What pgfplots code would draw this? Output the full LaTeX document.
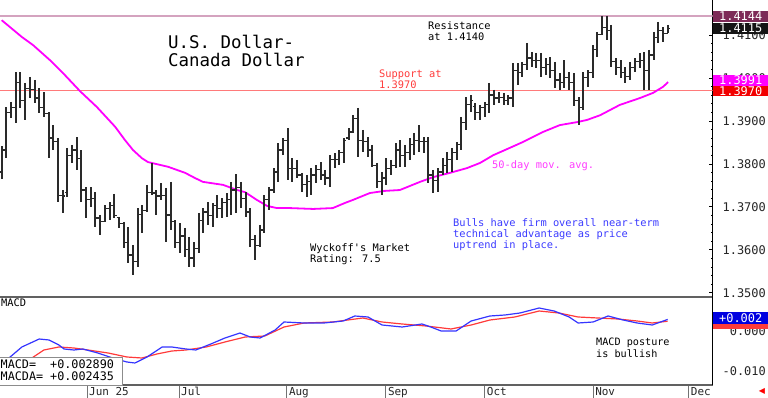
\documentclass[border=0pt]{standalone}
\usepackage{pgfplots}
\pgfplotsset{compat=1.18}
\usepackage{pgfplotstable}
\usepackage{fontspec}
\setmainfont{DejaVu Sans Mono}
\newfontfamily\symfont{DejaVu Sans}
\definecolor{resist}{HTML}{D4A3BF}
\definecolor{support}{HTML}{FF7A7A}
\definecolor{magline}{HTML}{FF00FF}
\definecolor{macdblue}{HTML}{3535FF}
\definecolor{macdred}{HTML}{FF3A3A}
\definecolor{boxmaroon}{HTML}{7D2A57}
\definecolor{txtred}{HTML}{FF3B3B}
\definecolor{txtmag}{HTML}{FF3BFF}
\definecolor{txtblue}{HTML}{3B3BFF}
\definecolor{barcol}{HTML}{2A2A2A}
\pgfdeclareplotmark{otick}{\pgfpathmoveto{\pgfpoint{-2.4bp}{0pt}}\pgfpathlineto{\pgfpoint{0pt}{0pt}}\pgfusepathqstroke}
\pgfdeclareplotmark{ctick}{\pgfpathmoveto{\pgfpoint{0pt}{0pt}}\pgfpathlineto{\pgfpoint{2.4bp}{0pt}}\pgfusepathqstroke}

\pgfplotstableread{
i o h l c
0 1.3781 1.3841 1.3765 1.3832
1 1.3832 1.3932 1.3813 1.3920
2 1.3920 1.3944 1.3906 1.3930
3 1.3930 1.4013 1.3895 1.3990
4 1.3990 1.4013 1.3930 1.3948
5 1.3948 1.3988 1.3902 1.3976
6 1.3976 1.4002 1.3953 1.3972
7 1.3972 1.3995 1.3941 1.3953
8 1.3953 1.3976 1.3918 1.3930
9 1.3930 1.3967 1.3909 1.3916
10 1.3916 1.3920 1.3813 1.3860
11 1.3860 1.3890 1.3832 1.3851
12 1.3851 1.3860 1.3711 1.3727
13 1.3727 1.3739 1.3686 1.3725
14 1.3734 1.3837 1.3723 1.3820
15 1.3820 1.3844 1.3802 1.3832
16 1.3832 1.3862 1.3786 1.3813
17 1.3813 1.3832 1.3711 1.3739
18 1.3739 1.3746 1.3674 1.3716
19 1.3716 1.3746 1.3699 1.3720
20 1.3720 1.3734 1.3653 1.3674
21 1.3674 1.3681 1.3634 1.3665
22 1.3665 1.3704 1.3665 1.3697
23 1.3697 1.3711 1.3669 1.3702
24 1.3702 1.3730 1.3674 1.3679
25 1.3676 1.3676 1.3651 1.3662
26 1.3662 1.3665 1.3604 1.3616
27 1.3616 1.3653 1.3569 1.3588
28 1.3588 1.3611 1.3541 1.3572
29 1.3572 1.3697 1.3560 1.3683
30 1.3683 1.3704 1.3639 1.3692
31 1.3692 1.3751 1.3688 1.3734
32 1.3734 1.3802 1.3727 1.3732
33 1.3732 1.3739 1.3681 1.3725
34 1.3725 1.3755 1.3716 1.3727
35 1.3727 1.3744 1.3618 1.3681
36 1.3681 1.3758 1.3646 1.3665
37 1.3665 1.3669 1.3604 1.3618
38 1.3618 1.3662 1.3592 1.3632
39 1.3632 1.3651 1.3583 1.3600
40 1.3600 1.3630 1.3560 1.3581
41 1.3581 1.3618 1.3560 1.3604
42 1.3604 1.3686 1.3592 1.3669
43 1.3669 1.3697 1.3639 1.3688
44 1.3688 1.3711 1.3658 1.3679
45 1.3679 1.3709 1.3653 1.3702
46 1.3702 1.3727 1.3674 1.3697
47 1.3697 1.3720 1.3674 1.3709
48 1.3709 1.3732 1.3676 1.3716
49 1.3716 1.3758 1.3681 1.3739
50 1.3739 1.3776 1.3686 1.3744
51 1.3744 1.3758 1.3697 1.3720
52 1.3720 1.3734 1.3676 1.3688
53 1.3688 1.3697 1.3606 1.3623
54 1.3623 1.3634 1.3576 1.3611
55 1.3611 1.3658 1.3606 1.3646
56 1.3646 1.3727 1.3639 1.3716
57 1.3716 1.3746 1.3692 1.3739
58 1.3739 1.3790 1.3732 1.3781
59 1.3781 1.3848 1.3758 1.3832
60 1.3832 1.3860 1.3820 1.3855
61 1.3855 1.3883 1.3762 1.3790
62 1.3790 1.3813 1.3758 1.3790
63 1.3790 1.3809 1.3767 1.3774
64 1.3774 1.3779 1.3734 1.3751
65 1.3751 1.3774 1.3723 1.3758
66 1.3758 1.3790 1.3727 1.3774
67 1.3774 1.3797 1.3755 1.3786
68 1.3786 1.3804 1.3762 1.3774
69 1.3774 1.3786 1.3751 1.3767
70 1.3767 1.3820 1.3746 1.3809
71 1.3809 1.3825 1.3790 1.3809
72 1.3809 1.3832 1.3797 1.3827
73 1.3827 1.3860 1.3802 1.3855
74 1.3860 1.3883 1.3855 1.3874
75 1.3874 1.3913 1.3872 1.3906
76 1.3906 1.3930 1.3816 1.3855
77 1.3855 1.3879 1.3827 1.3851
78 1.3851 1.3862 1.3816 1.3832
79 1.3832 1.3844 1.3793 1.3797
80 1.3797 1.3802 1.3744 1.3758
81 1.3758 1.3781 1.3727 1.3767
82 1.3767 1.3813 1.3751 1.3790
83 1.3790 1.3809 1.3774 1.3797
84 1.3797 1.3848 1.3790 1.3832
85 1.3832 1.3855 1.3793 1.3820
86 1.3820 1.3844 1.3793 1.3827
87 1.3827 1.3860 1.3809 1.3844
88 1.3844 1.3872 1.3820 1.3855
89 1.3855 1.3890 1.3827 1.3851
90 1.3851 1.3862 1.3825 1.3851
91 1.3851 1.3862 1.3755 1.3774
92 1.3774 1.3786 1.3732 1.3762
93 1.3762 1.3790 1.3734 1.3781
94 1.3781 1.3813 1.3774 1.3797
95 1.3797 1.3827 1.3779 1.3809
96 1.3809 1.3837 1.3781 1.3827
97 1.3827 1.3851 1.3809 1.3844
98 1.3844 1.3909 1.3832 1.3897
99 1.3897 1.3955 1.3879 1.3937
100 1.3937 1.3960 1.3920 1.3948
101 1.3934 1.3941 1.3902 1.3920
102 1.3920 1.3937 1.3902 1.3930
103 1.3930 1.3944 1.3909 1.3937
104 1.3937 1.3988 1.3918 1.3960
105 1.3960 1.3972 1.3937 1.3953
106 1.3953 1.3967 1.3941 1.3955
107 1.3955 1.3965 1.3937 1.3948
108 1.3948 1.3960 1.3937 1.3953
109 1.3953 1.4034 1.3932 1.4018
110 1.4018 1.4034 1.3983 1.4013
111 1.4013 1.4037 1.4002 1.4030
112 1.4030 1.4081 1.4018 1.4046
113 1.4046 1.4060 1.4025 1.4041
114 1.4041 1.4058 1.4023 1.4041
115 1.4041 1.4058 1.4002 1.4023
116 1.4023 1.4046 1.4006 1.4030
117 1.4030 1.4048 1.4000 1.4018
118 1.4018 1.4037 1.3976 1.3995
119 1.3995 1.4011 1.3972 1.3990
120 1.3990 1.4041 1.3976 1.4000
121 1.4000 1.4013 1.3972 1.3990
122 1.3990 1.4011 1.3934 1.3948
123 1.3948 1.3955 1.3890 1.3930
124 1.3930 1.4013 1.3925 1.4000
125 1.4000 1.4018 1.3979 1.4013
126 1.4013 1.4076 1.4000 1.4065
127 1.4065 1.4107 1.4048 1.4100
128 1.4100 1.4144 1.4100 1.4118
129 1.4118 1.4144 1.4088 1.4111
130 1.4111 1.4123 1.4025 1.4037
131 1.4037 1.4046 1.4006 1.4023
132 1.4023 1.4041 1.4000 1.4013
133 1.4013 1.4025 1.3988 1.4004
134 1.4004 1.4037 1.3995 1.4023
135 1.4023 1.4046 1.4013 1.4037
136 1.4037 1.4058 1.4023 1.4041
137 1.4041 1.4060 1.3972 1.4018
138 1.4018 1.4065 1.3972 1.4053
139 1.4053 1.4107 1.4041 1.4093
140 1.4093 1.4130 1.4081 1.4111
141 1.4111 1.4118 1.4083 1.4104
142 1.4104 1.4123 1.4104 1.4115
}\ohlc

\pgfplotstableread{
i p
0 1.4134
4.3 1.4095
6.7 1.4076
10.3 1.4041
12.9 1.4013
16.7 1.3969
20.3 1.3932
24.2 1.3886
26.3 1.3855
28.0 1.3832
29.9 1.3813
31.2 1.3804
35.5 1.3793
39.1 1.3779
41.2 1.3767
42.9 1.3758
47.2 1.3751
50.2 1.3739
51.9 1.3734
54.4 1.3716
56.6 1.3702
58.7 1.3697
61.5 1.3697
66.4 1.3695
70.6 1.3697
73.2 1.3709
74.9 1.3716
78.5 1.3732
81.7 1.3737
84.9 1.3739
89.2 1.3758
92.0 1.3769
95.6 1.3779
99.2 1.3790
102.0 1.3802
104.8 1.3820
107.3 1.3832
111.2 1.3851
115.4 1.3874
119.0 1.3890
122.7 1.3897
124.8 1.3902
127.6 1.3913
131.8 1.3937
136.1 1.3953
138.9 1.3965
141.0 1.3979
142.1 1.3990
}\mavg

\pgfplotstableread{
i v
0 -0.0080
1.8 -0.0065
4.3 -0.0040
8.0 -0.0020
10.1 -0.00225
12.2 -0.0035
13.3 -0.0045
15.4 -0.00475
17.3 -0.0045
20.5 -0.0055
23.7 -0.00675
26.7 -0.00775
28.4 -0.0080
31.0 -0.0065
34.2 -0.0040
36.3 -0.0040
39.3 -0.0045
41.4 -0.00475
44.6 -0.00325
47.6 -0.00175
50.8 -0.0005
53.0 -0.0015
55.1 -0.00175
58.3 0.00025
60.2 0.00225
64.5 0.0020
68.7 0.0020
72.8 0.0025
75.3 0.00375
78.1 0.0035
81.1 0.0015
85.4 0.0010
89.6 0.00175
91.5 0.0010
93.7 0.0000
96.9 0.0000
100.1 0.0025
104.1 0.00375
107.3 0.0040
110.5 0.0045
114.6 0.00575
117.8 0.0050
121.0 0.0035
122.9 0.0020
126.1 0.00225
129.3 0.00375
132.5 0.00275
135.5 0.0020
138.7 0.0015
142.0 0.00289
}\macd

\pgfplotstableread{
i v
2.0 -0.0095
5.8 -0.00725
9.0 -0.00475
12.2 -0.0040
15.4 -0.00425
18.4 -0.00475
22.7 -0.0055
26.7 -0.0065
29.9 -0.00675
33.1 -0.00575
36.3 -0.0050
39.3 -0.00475
43.6 -0.0040
47.6 -0.00275
51.9 -0.0015
56.1 -0.00125
60.2 0.0010
64.5 0.0020
70.6 0.00225
77.0 0.00325
81.1 0.00225
85.4 0.00175
90.5 0.00125
95.8 0.0005
100.1 0.0015
104.1 0.00275
109.4 0.0035
114.6 0.0050
118.8 0.0045
122.9 0.0035
127.1 0.00325
131.4 0.0030
135.5 0.0025
138.7 0.0020
142.0 0.002435
}\macda

\begin{document}
\begin{tikzpicture}
\useasboundingbox (0,0) rectangle (768bp,398bp);
\fill[white] (0,0) rectangle (768bp,398bp);

% ---------- price panel ----------
\begin{axis}[
  at={(0bp,101bp)}, anchor=south west, scale only axis,
  width=712.5bp, height=297bp,
  xmin=-0.36, xmax=151.56, ymin=1.34902, ymax=1.4181,
  axis x line*=bottom, axis y line*=right,
  x axis line style={-, line width=1.8bp, black!62},
  y axis line style={-, line width=0.9bp, black},
  xtick=\empty,
  ytick={1.35,1.36,1.37,1.38,1.39,1.40,1.41},
  scaled y ticks=false,
  minor y tick num=4,
  tick align=inside,
  major tick length=4bp, minor tick length=2bp,
  tick style={black, line width=0.6bp},
  yticklabel={\pgfmathprintnumber[fixed,fixed zerofill,precision=4,assume math mode=true]{\tick}},
  yticklabel style={font=\fontsize{12}{12}\selectfont, anchor=east, inner sep=0pt, xshift=53.5bp, text=black!85},
]
\addplot[resist, line width=1.3bp, forget plot] coordinates {(-1,1.4144) (153,1.4144)};
\addplot[support, line width=1.1bp, forget plot] coordinates {(-1,1.3970) (153,1.3970)};
\addplot[magline, line width=1.8bp] table[x=i, y=p] {\mavg};
\addplot[draw=none, mark=none, forget plot,
  error bars/.cd, y dir=minus, y explicit, error mark=none,
  error bar style={line width=2bp, draw=barcol, solid}]
  table[x=i, y=h, y error expr=\thisrow{h}-\thisrow{l}] {\ohlc};
\addplot[only marks, mark=otick, mark options={draw=barcol, line width=1.1bp}] table[x=i, y=o] {\ohlc};
\addplot[only marks, mark=ctick, mark options={draw=barcol, line width=1.1bp}] table[x=i, y=c] {\ohlc};
\end{axis}

% ---------- MACD panel ----------
\begin{axis}[
  at={(0bp,13bp)}, anchor=south west, scale only axis,
  width=712.5bp, height=88bp,
  xmin=-0.36, xmax=151.56, ymin=-0.0135, ymax=0.0085,
  axis x line*=bottom, axis y line*=right,
  x axis line style={-, line width=1.6bp, black!62},
  y axis line style={-, line width=0.9bp, black},
  xtick={18.2,37.8,60.8,81.9,103.0,126.1,146.5},
  xticklabels={Jun 25,Jul,Aug,Sep,Oct,Nov,Dec},
  tick align=outside, major tick length=13bp,
  xtick style={black!55, line width=0.8bp},
  ytick style={draw=none},
  xticklabel style={font=\fontsize{11}{11}\selectfont, anchor=north west, inner sep=0pt, xshift=2bp, yshift=11bp, text=black!85},
  ytick={-0.01,0},
  scaled y ticks=false,
  yticklabel={\pgfmathprintnumber[fixed,fixed zerofill,precision=3,assume math mode=true]{\tick}},
  yticklabel style={font=\fontsize{12}{12}\selectfont, anchor=east, inner sep=0pt, xshift=40.5bp, text=black!85},
]
\addplot[macdred, line width=1.2bp] table[x=i, y=v] {\macda};
\addplot[macdblue, line width=1.2bp] table[x=i, y=v] {\macd};
\end{axis}

% ---------- annotations ----------
\node[anchor=north west, inner sep=0pt, align=left, font=\fontsize{17.5}{18}\selectfont] at (168bp,363bp) {U.S. Dollar-\\Canada Dollar};
\node[anchor=north west, inner sep=0pt, align=left, font=\fontsize{10.4}{11}\selectfont] at (428bp,377bp) {Resistance\\at 1.4140};
\node[anchor=north west, inner sep=0pt, align=left, text=txtred, font=\fontsize{10.4}{11}\selectfont] at (379bp,328bp) {Support at\\1.3970};
\node[anchor=north west, inner sep=0pt, align=left, text=txtmag, font=\fontsize{10.4}{11}\selectfont] at (492bp,238bp) {50-day mov. avg.};
\node[anchor=north west, inner sep=0pt, align=left, text=txtblue, font=\fontsize{10.4}{11}\selectfont] at (453bp,180bp) {Bulls have firm overall near-term\\technical advantage as price\\uptrend in place.};
\node[anchor=north west, inner sep=0pt, align=left, font=\fontsize{10.4}{11}\selectfont] at (310bp,155bp) {Wyckoff\textquotesingle s Market\\Rating: 7.5};
\node[anchor=north west, inner sep=0pt, align=left, font=\fontsize{10.4}{11}\selectfont] at (1bp,99bp) {MACD};
\node[anchor=north west, inner sep=0pt, align=left, font=\fontsize{10.2}{12}\selectfont] at (596bp,60bp) {MACD posture\\is bullish};

% MACD value box
\draw[fill=white, draw=black!45, line width=0.8bp] (-1bp,13bp) rectangle (122.5bp,40.5bp);
\node[anchor=north west, inner sep=0pt, align=left, font=\fontsize{11.8}{12}\selectfont] at (0.5bp,38.5bp) {MACD=\ \ +0.002890\\MACDA=\ +0.002435};

% right-side value labels
\node[fill=boxmaroon, text=white, anchor=west, inner sep=0pt, minimum width=55bp, minimum height=11.5bp, font=\fontsize{12}{12}\selectfont] at (713bp,381.5bp) {1.4144};
\node[fill=black!92, text=white, anchor=west, inner sep=0pt, minimum width=55bp, minimum height=11.5bp, font=\fontsize{12}{12}\selectfont] at (713bp,369.5bp) {1.4115};
\node[fill=magline, text=white, anchor=west, inner sep=0pt, minimum width=55bp, minimum height=10.5bp, font=\fontsize{12}{12}\selectfont] at (713bp,317.5bp) {1.3991};
\node[fill=red!95!black, text=white, anchor=west, inner sep=0pt, minimum width=55bp, minimum height=10.5bp, font=\fontsize{12}{12}\selectfont] at (713bp,307bp) {1.3970};
\fill[macdred] (713bp,69bp) rectangle (768bp,74bp);
\node[fill=blue!88!black, text=white, anchor=west, inner sep=0pt, minimum width=55bp, minimum height=12bp, font=\fontsize{12}{12}\selectfont] at (713bp,79.5bp) {+0.002};
\node[text=red, inner sep=0pt, font=\symfont\fontsize{8}{8}\selectfont] at (762bp,7bp) {◀};
\end{tikzpicture}
\end{document}
